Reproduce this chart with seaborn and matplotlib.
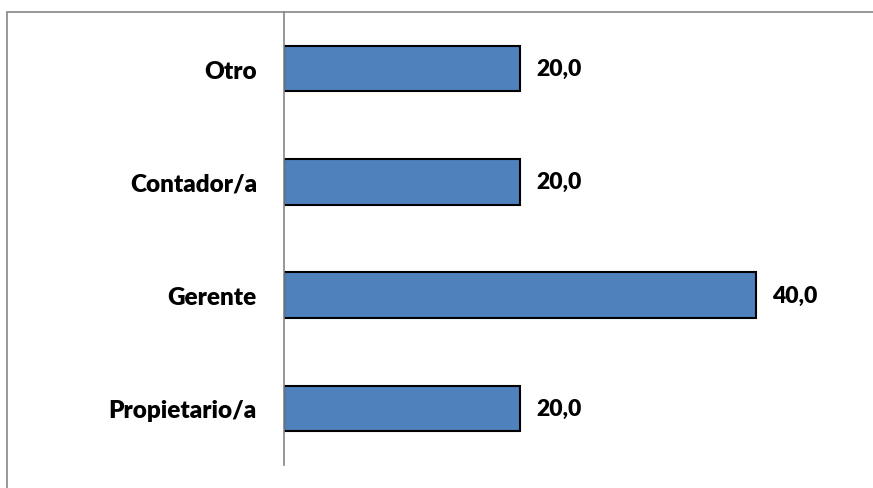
import matplotlib
matplotlib.use("Agg")
import matplotlib.pyplot as plt
import matplotlib.patches as mpatches
import seaborn as sns
import pandas as pd

# Puesto de la persona encuestada (%)
categorias = ["Otro", "Contador/a", "Gerente", "Propietario/a"]
porcentajes = [20.0, 20.0, 40.0, 20.0]

sns.set_theme(style="white")
plt.rcParams["font.family"] = ["Lato", "DejaVu Sans"]

df = pd.DataFrame({"categoria": categorias, "porcentaje": porcentajes})

fig = plt.figure(figsize=(8.73, 4.89), dpi=100)
ax = fig.add_axes([284 / 873, 23 / 489, 589 / 873, 453 / 489])

sns.barplot(data=df, x="porcentaje", y="categoria", order=categorias,
            color="#4F81BD", saturation=1, width=0.4,
            edgecolor="black", linewidth=1.5, ax=ax)

ax.set_xlim(0, 49.9)
ax.set_xlabel("")
ax.set_ylabel("")
ax.set_xticks([])
for s in ["top", "right", "bottom"]:
    ax.spines[s].set_visible(False)
ax.spines["left"].set_color("#868686")
ax.spines["left"].set_linewidth(1.2)
ax.tick_params(axis="y", length=0, pad=19.5)
for lbl in ax.get_yticklabels():
    lbl.set_fontsize(17.5)
    lbl.set_fontweight("heavy")
    lbl.set_color("black")

for i, v in enumerate(porcentajes):
    ax.text(v + 1.35, i, f"{v:.1f}".replace(".", ","), va="center", ha="left",
            fontsize=16.5, fontweight="heavy", color="black")

# Marco del área del gráfico
marco = mpatches.Rectangle((7 / 873, -0.1), 2, (489 - 13) / 489 + 0.1,
                           transform=fig.transFigure, fill=False,
                           edgecolor="#868686", linewidth=1.2, clip_on=False)
fig.patches.append(marco)

fig.savefig("out.png", dpi=100)
